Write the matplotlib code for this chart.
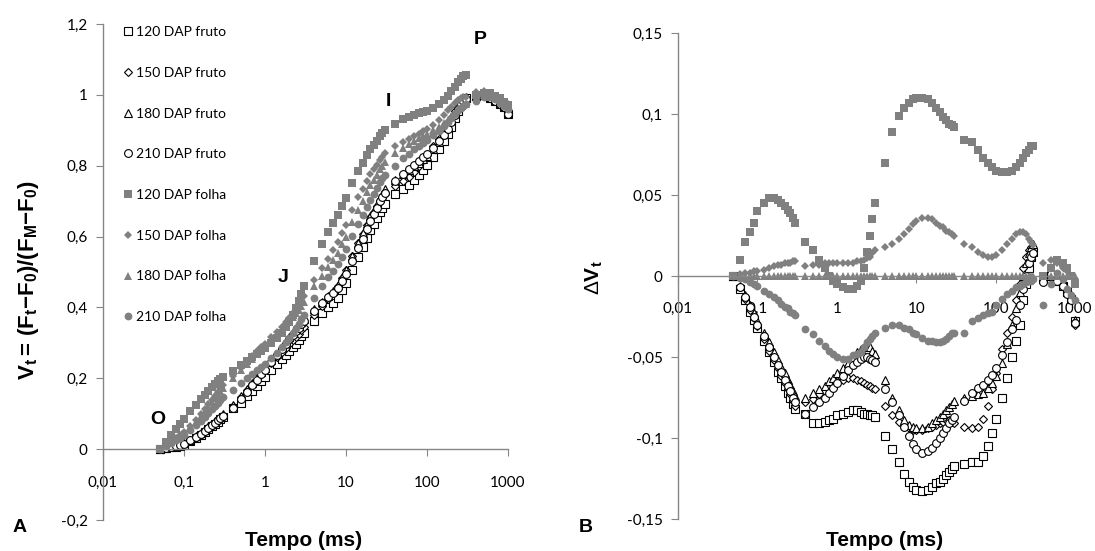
import matplotlib
matplotlib.use("Agg")
import matplotlib.pyplot as plt
from matplotlib.lines import Line2D
import numpy as np

plt.rcParams["font.family"] = ["Lato", "DejaVu Sans"]
plt.rcParams["mathtext.fontset"] = "custom"
plt.rcParams["mathtext.rm"] = "Liberation Sans"
plt.rcParams["mathtext.bf"] = "Liberation Sans:bold"
plt.rcParams["mathtext.it"] = "Liberation Sans:italic"

# time axis (ms)
tempo = [0.05, 0.06, 0.07, 0.08, 0.09, 0.10, 0.12, 0.14, 0.16, 0.18, 0.20, 0.22, 0.24, 0.26, 0.28, 0.30,
         0.4, 0.5, 0.6, 0.7, 0.8, 0.9, 1.0, 1.2, 1.4, 1.6, 1.8, 2.0, 2.2, 2.4, 2.6, 2.8, 3.0,
         4, 5, 6, 7, 8, 9, 10, 12, 14, 16, 18, 20, 22, 24, 26, 28, 30,
         40, 50, 60, 70, 80, 90, 100, 120, 140, 160, 180, 200, 220, 240, 260, 280, 300,
         400, 500, 600, 700, 800, 900, 1000]

# V_t of the reference sample (180 DAP folha)
v_180_folha = [0.000, 0.010, 0.020, 0.029, 0.037, 0.045, 0.062, 0.078, 0.093, 0.107, 0.120, 0.132, 0.143, 0.153, 0.163, 0.172,
               0.200, 0.222, 0.240, 0.255, 0.268, 0.280, 0.290, 0.308, 0.323, 0.337, 0.350, 0.362, 0.373, 0.383, 0.393, 0.404, 0.415,
               0.460, 0.490, 0.515, 0.535, 0.555, 0.578, 0.600, 0.640, 0.675, 0.700, 0.725, 0.745, 0.760, 0.775, 0.790, 0.800, 0.810,
               0.835, 0.850, 0.860, 0.870, 0.878, 0.885, 0.890, 0.900, 0.910, 0.920, 0.930, 0.940, 0.950, 0.960, 0.967, 0.972, 0.975,
               1.000, 1.000, 0.995, 0.990, 0.985, 0.980, 0.975]

# delta V_t relative to 180 DAP folha
dv_120_fruto = [0.000, -0.008, -0.015, -0.022, -0.027, -0.032, -0.040, -0.047, -0.053, -0.059, -0.063, -0.068, -0.072, -0.075, -0.079, -0.082,
                -0.085, -0.091, -0.091, -0.090, -0.089, -0.088, -0.086, -0.085, -0.084, -0.083, -0.083, -0.084, -0.085, -0.085, -0.086, -0.086, -0.087,
                -0.099, -0.107, -0.115, -0.122, -0.127, -0.130, -0.132, -0.133, -0.132, -0.130, -0.128, -0.127, -0.125, -0.123, -0.121, -0.119, -0.117,
                -0.116, -0.115, -0.115, -0.111, -0.105, -0.097, -0.088, -0.075, -0.063, -0.050, -0.040, -0.030, -0.015, -0.005, 0.005, 0.012, 0.015,
                -0.002, 0.000, -0.003, -0.006, -0.010, -0.014, -0.028]
dv_150_fruto = [0.000, -0.007, -0.014, -0.021, -0.026, -0.031, -0.039, -0.046, -0.052, -0.057, -0.062, -0.066, -0.070, -0.073, -0.077, -0.080,
                -0.078, -0.076, -0.073, -0.071, -0.069, -0.067, -0.065, -0.064, -0.063, -0.063, -0.064, -0.065, -0.066, -0.067, -0.068, -0.069, -0.070,
                -0.080, -0.086, -0.090, -0.093, -0.094, -0.095, -0.095, -0.095, -0.094, -0.093, -0.092, -0.091, -0.090, -0.089, -0.089, -0.090, -0.091,
                -0.093, -0.094, -0.093, -0.088, -0.080, -0.070, -0.060, -0.045, -0.035, -0.025, -0.015, -0.005, 0.005, 0.012, 0.016, 0.018, 0.015,
                -0.002, 0.002, -0.002, -0.005, -0.009, -0.013, -0.030]
dv_180_fruto = [0.000, -0.006, -0.012, -0.018, -0.023, -0.028, -0.035, -0.041, -0.047, -0.052, -0.056, -0.060, -0.064, -0.067, -0.071, -0.074,
                -0.075, -0.072, -0.070, -0.068, -0.065, -0.063, -0.060, -0.057, -0.054, -0.050, -0.047, -0.045, -0.044, -0.043, -0.044, -0.046, -0.048,
                -0.064, -0.075, -0.083, -0.089, -0.092, -0.093, -0.094, -0.094, -0.093, -0.091, -0.089, -0.087, -0.085, -0.083, -0.081, -0.079, -0.077,
                -0.075, -0.074, -0.073, -0.072, -0.069, -0.066, -0.062, -0.054, -0.042, -0.030, -0.020, -0.010, 0.000, 0.008, 0.014, 0.018, 0.020,
                0.000, 0.003, -0.001, -0.004, -0.008, -0.012, -0.027]
dv_210_fruto = [0.000, -0.007, -0.013, -0.019, -0.025, -0.030, -0.037, -0.044, -0.050, -0.055, -0.059, -0.064, -0.068, -0.071, -0.075, -0.078,
                -0.085, -0.081, -0.078, -0.075, -0.072, -0.069, -0.066, -0.062, -0.058, -0.055, -0.053, -0.051, -0.050, -0.050, -0.051, -0.052, -0.053,
                -0.070, -0.078, -0.086, -0.093, -0.099, -0.104, -0.107, -0.109, -0.108, -0.106, -0.103, -0.100, -0.097, -0.094, -0.091, -0.089, -0.087,
                -0.077, -0.072, -0.069, -0.067, -0.064, -0.061, -0.057, -0.049, -0.041, -0.033, -0.027, -0.018, -0.008, 0.000, 0.008, 0.012, 0.014,
                -0.004, 0.001, -0.003, -0.006, -0.011, -0.015, -0.029]
dv_120_folha = [0.000, 0.010, 0.021, 0.027, 0.033, 0.040, 0.045, 0.048, 0.048, 0.047, 0.045, 0.043, 0.041, 0.039, 0.036, 0.033,
                0.021, 0.016, 0.010, 0.005, 0.000, -0.003, -0.005, -0.007, -0.008, -0.008, -0.006, -0.003, 0.005, 0.015, 0.025, 0.035, 0.045,
                0.070, 0.089, 0.099, 0.104, 0.107, 0.109, 0.110, 0.110, 0.109, 0.107, 0.104, 0.101, 0.098, 0.096, 0.094, 0.093, 0.092,
                0.084, 0.083, 0.078, 0.073, 0.070, 0.067, 0.065, 0.064, 0.064, 0.065, 0.067, 0.070, 0.073, 0.076, 0.078, 0.080, 0.080,
                0.000, 0.005, 0.010, 0.008, 0.005, 0.000, -0.005]
dv_150_folha = [0.000, 0.001, 0.002, 0.002, 0.003, 0.003, 0.004, 0.005, 0.006, 0.007, 0.007, 0.008, 0.008, 0.008, 0.009, 0.009,
                0.006, 0.007, 0.007, 0.008, 0.008, 0.008, 0.008, 0.008, 0.008, 0.008, 0.009, 0.009, 0.010, 0.011, 0.012, 0.014, 0.016,
                0.018, 0.020, 0.023, 0.026, 0.029, 0.032, 0.034, 0.036, 0.036, 0.035, 0.033, 0.031, 0.030, 0.028, 0.027, 0.026, 0.025,
                0.020, 0.018, 0.015, 0.013, 0.012, 0.012, 0.013, 0.016, 0.020, 0.023, 0.026, 0.027, 0.027, 0.026, 0.023, 0.021, 0.019,
                0.008, 0.010, 0.008, 0.005, 0.003, 0.000, -0.002]
dv_210_folha = [0.000, -0.001, -0.002, -0.004, -0.005, -0.006, -0.009, -0.011, -0.013, -0.015, -0.017, -0.019, -0.020, -0.022, -0.023, -0.024,
                -0.033, -0.036, -0.040, -0.043, -0.046, -0.048, -0.050, -0.051, -0.051, -0.049, -0.048, -0.047, -0.044, -0.041, -0.039, -0.037, -0.035,
                -0.032, -0.030, -0.030, -0.032, -0.033, -0.035, -0.036, -0.038, -0.040, -0.040, -0.041, -0.041, -0.040, -0.039, -0.037, -0.035, -0.035,
                -0.035, -0.028, -0.026, -0.024, -0.023, -0.022, -0.018, -0.014, -0.011, -0.009, -0.007, -0.006, -0.005, -0.004, -0.003, -0.003, -0.002,
                -0.018, -0.005, 0.002, -0.002, -0.008, -0.012, -0.015]

labels = ["120 DAP fruto", "150 DAP fruto", "180 DAP fruto", "210 DAP fruto",
          "120 DAP folha", "150 DAP folha", "180 DAP folha", "210 DAP folha"]

x_ticks = [0.01, 0.1, 1, 10, 100, 1000]
x_ticklabels = ["0,01", "0,1", "1", "10", "100", "1000"]
yA_ticks = [-0.2, 0, 0.2, 0.4, 0.6, 0.8, 1.0, 1.2]
yA_ticklabels = ["-0,2", "0", "0,2", "0,4", "0,6", "0,8", "1", "1,2"]
yB_ticks = [-0.15, -0.1, -0.05, 0, 0.05, 0.1, 0.15]
yB_ticklabels = ["-0,15", "-0,1", "-0,05", "0", "0,05", "0,1", "0,15"]

t = np.array(tempo)
ref = np.array(v_180_folha)
dv = [np.array(dv_120_fruto), np.array(dv_150_fruto), np.array(dv_180_fruto), np.array(dv_210_fruto),
      np.array(dv_120_folha), np.array(dv_150_folha), ref - ref, np.array(dv_210_folha)]

GREY = "#808080"
AXC = "#868686"
markers = ["s", "D", "^", "o", "s", "D", "^", "o"]
msizes = [5.2, 4.2, 5.2, 5.6, 5.2, 4.2, 5.2, 5.6]


def style(i):
    if i < 4:
        return dict(marker=markers[i], ms=msizes[i], mfc="white", mec="black", mew=0.8, ls="none")
    return dict(marker=markers[i], ms=msizes[i], mfc=GREY, mec=GREY, mew=0.0, ls="none")


W, H = 1095, 551
fig = plt.figure(figsize=(W / 100, H / 100), dpi=100)


def px_axes(x0, x1, y0, y1):
    return fig.add_axes([x0 / W, 1 - y1 / H, (x1 - x0) / W, (y1 - y0) / H])


def setup(ax, yt, ytl):
    ax.set_xscale("log")
    ax.set_xlim(0.01, 1000)
    for s in ["top", "right"]:
        ax.spines[s].set_visible(False)
    for s in ["left", "bottom"]:
        ax.spines[s].set_color(AXC)
        ax.spines[s].set_linewidth(1.0)
    ax.spines["bottom"].set_position(("data", 0))
    ax.set_xticks(x_ticks)
    ax.set_xticklabels(x_ticklabels)
    ax.xaxis.set_minor_locator(matplotlib.ticker.NullLocator())
    ax.set_yticks(yt)
    ax.set_yticklabels(ytl)
    ax.tick_params(axis="both", direction="out", length=5, color=AXC, labelsize=11, labelcolor="black")
    ax.tick_params(axis="x", pad=14)
    ax.tick_params(axis="y", pad=6)
    ax.patch.set_alpha(0)


# panel A
axA = px_axes(103, 508, 24, 520)
setup(axA, yA_ticks, yA_ticklabels)
axA.set_ylim(-0.2, 1.2)
for i in range(8):
    axA.plot(t, ref + dv[i], clip_on=False, **style(i))

handles = [Line2D([], [], **style(i)) for i in range(8)]
axA.legend(handles, labels, loc="upper left", bbox_to_anchor=(123 / W, 1 - 26 / H),
           bbox_transform=fig.transFigure, frameon=False, fontsize=10, labelspacing=2.07,
           handlelength=0.7, handletextpad=0.25, borderpad=0, borderaxespad=0)

# panel B
axB = px_axes(678, 1075, 33, 519)
setup(axB, yB_ticks, yB_ticklabels)
axB.set_ylim(-0.15, 0.15)
for i in range(8):
    axB.plot(t, dv[i], clip_on=False, **style(i))


def ftext(x, y, s, **kw):
    fig.text(x / W, 1 - y / H, s, ha="center", va="center", **kw)


bold = dict(family="Liberation Sans", fontweight="bold")
ftext(158, 420, "O", fontsize=14, **bold)
ftext(283, 278, "J", fontsize=14, **bold)
ftext(388, 101, "I", fontsize=14, **bold)
ftext(480, 40, "P", fontsize=14, **bold)
ftext(20, 527, "A", fontsize=14, **bold)
ftext(586, 527, "B", fontsize=14, **bold)
ftext(304, 541, "Tempo (ms)", fontsize=15, **bold)
ftext(885, 541, "Tempo (ms)", fontsize=15, **bold)
ftext(29, 280, r"$\mathbf{V_t{=}\,(F_t{-}F_0)/(F_M{-}F_0)}$", fontsize=16, rotation=90)
ftext(594, 278, r"$\Delta\mathbf{V_t}$", fontsize=15, rotation=90)

fig.savefig("out.png", dpi=100)
